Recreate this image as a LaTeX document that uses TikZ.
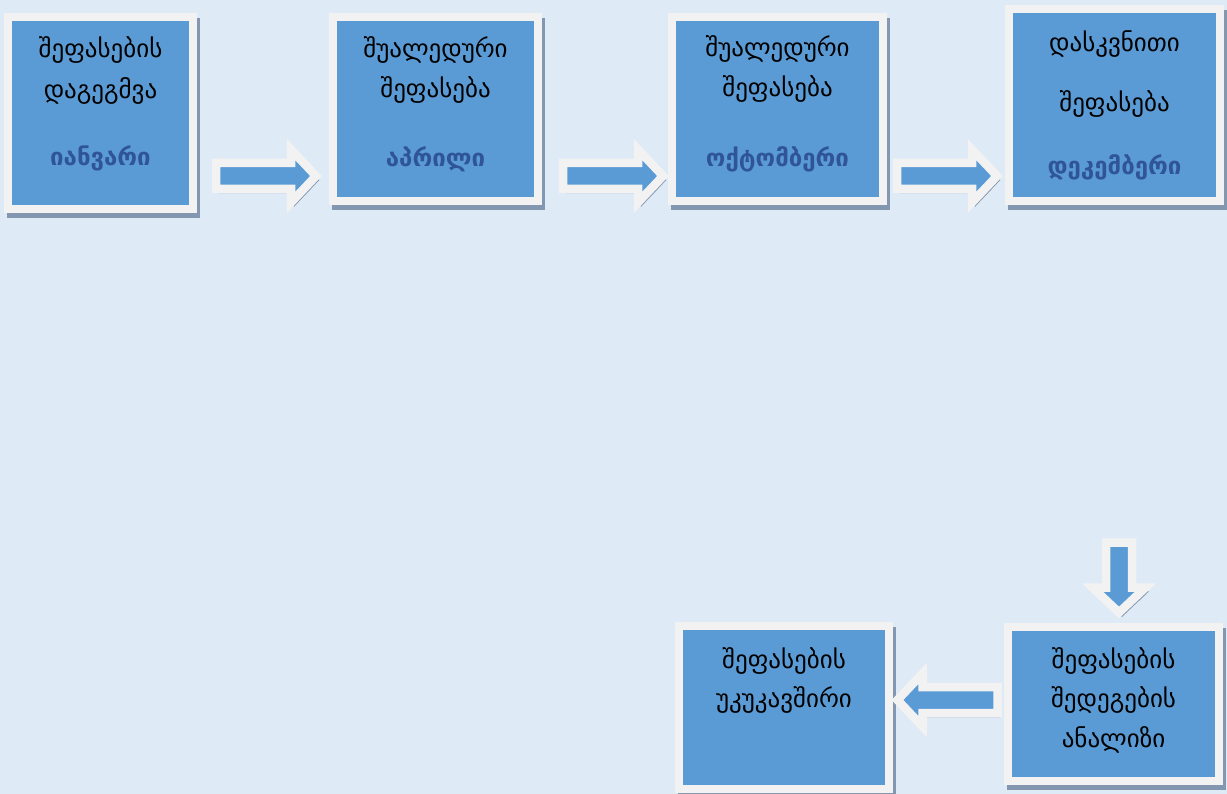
\documentclass[tikz,border=0pt]{standalone}
\usepackage{fontspec}
\setmainfont{DejaVu Sans}
\usetikzlibrary{calc}
\definecolor{bgc}{HTML}{DEEAF6}
\definecolor{boxblue}{HTML}{5B9BD5}
\definecolor{boxwhite}{HTML}{F2F2F2}
\definecolor{shadowc}{HTML}{8497B0}
\definecolor{monthc}{HTML}{2F5597}
\tikzset{
  panel/.style={draw=boxwhite, fill=boxblue, line width=8pt, line join=miter,
    inner sep=0pt, outer sep=0pt,
    preaction={draw=shadowc, fill=shadowc, transform canvas={shift={(3pt,-5pt)}}}},
  arrowsty/.style={draw=boxwhite, fill=boxblue, line width=8.5pt, line join=miter,
    preaction={draw=shadowc, fill=shadowc, transform canvas={shift={(3pt,-4pt)}}}},
  txt/.style={font=\fontsize{25}{30}\selectfont, text=black, inner sep=0pt, anchor=base},
  month/.style={txt, font=\fontsize{24}{30}\selectfont\bfseries, text=monthc},
  pics/barrow/.style={code={
    \path[arrowsty] (0,-13) -- ({#1-25},-13) -- ({#1-25},-26.5) -- (#1,0)
      -- ({#1-25},26.5) -- ({#1-25},13) -- (0,13) -- cycle;}}
}
\begin{document}
\begin{tikzpicture}[x=1pt,y=-1pt]
\useasboundingbox (0,0) rectangle (1227,794);
\fill[bgc] (0,0) rectangle (1227,794);

% boxes
\node[panel, minimum width=185pt, minimum height=192pt] (b1) at (100.5,113) {};
\node[panel, minimum width=205pt, minimum height=184pt] (b2) at (435.5,109) {};
\node[panel, minimum width=211pt, minimum height=184pt] (b3) at (777.5,109) {};
\node[panel, minimum width=211pt, minimum height=192pt] (b4) at (1114.5,105) {};
\node[panel, minimum width=211pt, minimum height=154pt] (b5) at (1113.5,704) {};
\node[panel, minimum width=210pt, minimum height=163pt] (b6) at (784,707.5) {};

% arrows
\coordinate (a1) at (216,176);
\coordinate (a2) at (563,176);
\coordinate (a3) at (897,176);
\coordinate (a4) at (1119,542.5);
\coordinate (a5) at (997.5,700);
\pic at (a1) {barrow=100};
\pic at (a2) {barrow=100};
\pic at (a3) {barrow=100};
\pic[rotate=-90] at (a4) {barrow=70};
\pic[rotate=180] at (a5) {barrow=100};

% texts
\node[txt] (t11) at (100.5,58) {შეფასების};
\node[txt] (t12) at (100.5,99) {დაგეგმვა};
\node[month] (t13) at (100.5,166) {იანვარი};

\node[txt] (t21) at (435.5,58) {შუალედური};
\node[txt] (t22) at (435.5,98) {შეფასება};
\node[month] (t23) at (435.5,167) {აპრილი};

\node[txt] (t31) at (777.5,57) {შუალედური};
\node[txt] (t32) at (777.5,97) {შეფასება};
\node[month] (t33) at (777.5,167) {ოქტომბერი};

\node[txt] (t41) at (1114.5,52) {დასკვნითი};
\node[txt] (t42) at (1114.5,112) {შეფასება};
\node[month] (t43) at (1114.5,175) {დეკემბერი};

\node[txt] (t51) at (1113.5,668) {შეფასების};
\node[txt] (t52) at (1113.5,707) {შედეგების};
\node[txt] (t53) at (1113.5,747) {ანალიზი};

\node[txt] (t61) at (784,668) {შეფასების};
\node[txt] (t62) at (784,707) {უკუკავშირი};
\end{tikzpicture}
\end{document}
